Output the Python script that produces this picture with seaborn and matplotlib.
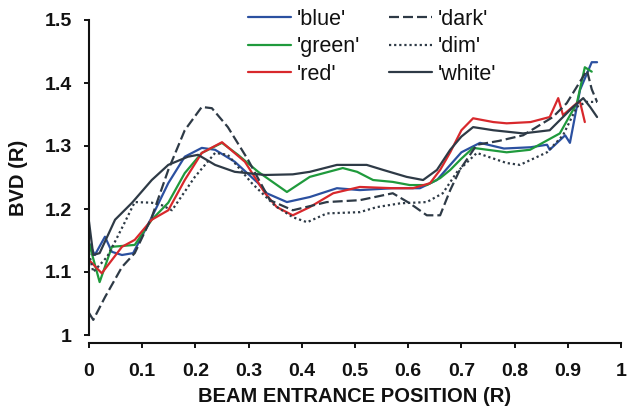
import matplotlib
matplotlib.use("Agg")
import matplotlib.pyplot as plt
import seaborn as sns
import pandas as pd

# ---- data ----
blue_x = [0, 0.011, 0.03, 0.043, 0.062, 0.083, 0.118, 0.149, 0.18, 0.212, 0.237, 0.274, 0.318, 0.334,
          0.372, 0.415, 0.466, 0.509, 0.571, 0.622, 0.654, 0.679, 0.70, 0.735, 0.78, 0.83, 0.861, 0.866,
          0.895, 0.904, 0.923, 0.945, 0.955]
blue_y = [1.146, 1.127, 1.156, 1.132, 1.127, 1.13, 1.187, 1.241, 1.283, 1.297, 1.294, 1.275, 1.241, 1.225,
          1.211, 1.219, 1.233, 1.23, 1.233, 1.233, 1.246, 1.27, 1.29, 1.305, 1.296, 1.298, 1.302, 1.294,
          1.317, 1.305, 1.389, 1.433, 1.433]

green_x = [0, 0.02, 0.043, 0.086, 0.118, 0.149, 0.18, 0.212, 0.25, 0.28, 0.318, 0.372, 0.415, 0.477,
           0.504, 0.534, 0.571, 0.603, 0.635, 0.66, 0.679, 0.70, 0.722, 0.785, 0.829, 0.885, 0.917, 0.932, 0.945]
green_y = [1.146, 1.084, 1.14, 1.143, 1.183, 1.21, 1.257, 1.289, 1.305, 1.286, 1.259, 1.227, 1.251, 1.265,
           1.259, 1.246, 1.243, 1.238, 1.238, 1.249, 1.262, 1.28, 1.297, 1.29, 1.294, 1.32, 1.368, 1.425, 1.418]

red_x = [0, 0.024, 0.043, 0.062, 0.086, 0.118, 0.149, 0.18, 0.212, 0.25, 0.293, 0.331, 0.353, 0.383,
         0.415, 0.459, 0.509, 0.571, 0.609, 0.641, 0.66, 0.679, 0.70, 0.722, 0.76, 0.785, 0.83, 0.866,
         0.882, 0.891, 0.917, 0.923, 0.932]
red_y = [1.119, 1.098, 1.119, 1.14, 1.151, 1.183, 1.198, 1.246, 1.289, 1.306, 1.275, 1.225, 1.203, 1.19,
         1.203, 1.225, 1.235, 1.233, 1.233, 1.241, 1.262, 1.29, 1.325, 1.344, 1.338, 1.336, 1.338, 1.346,
         1.376, 1.349, 1.368, 1.37, 1.338]

dark_x = [0, 0.008, 0.03, 0.062, 0.086, 0.118, 0.149, 0.18, 0.212, 0.231, 0.261, 0.299, 0.34, 0.383,
          0.447, 0.509, 0.571, 0.603, 0.635, 0.66, 0.679, 0.697, 0.729, 0.77, 0.816, 0.872, 0.898, 0.936,
          0.945, 0.955]
dark_y = [1.035, 1.024, 1.06, 1.108, 1.13, 1.187, 1.262, 1.325, 1.362, 1.36, 1.33, 1.278, 1.214, 1.198,
          1.211, 1.214, 1.225, 1.209, 1.19, 1.19, 1.23, 1.262, 1.302, 1.308, 1.317, 1.346, 1.368, 1.42,
          1.39, 1.37]

dim_x = [0, 0.008, 0.034, 0.05, 0.065, 0.086, 0.118, 0.137, 0.156, 0.199, 0.237, 0.261, 0.306, 0.35,
         0.383, 0.41, 0.447, 0.509, 0.541, 0.585, 0.635, 0.665, 0.692, 0.729, 0.785, 0.81, 0.861, 0.891,
         0.917, 0.935, 0.955]
dim_y = [1.13, 1.10, 1.124, 1.15, 1.175, 1.211, 1.21, 1.206, 1.198, 1.251, 1.289, 1.286, 1.241, 1.205,
         1.187, 1.179, 1.193, 1.195, 1.203, 1.209, 1.211, 1.225, 1.259, 1.289, 1.273, 1.27, 1.29, 1.317,
         1.362, 1.37, 1.37]

white_x = [0, 0.008, 0.02, 0.049, 0.081, 0.118, 0.149, 0.186, 0.205, 0.237, 0.274, 0.331, 0.383, 0.415,
           0.466, 0.522, 0.553, 0.597, 0.628, 0.654, 0.679, 0.70, 0.722, 0.76, 0.816, 0.866, 0.91, 0.929,
           0.942, 0.955]
white_y = [1.18, 1.127, 1.13, 1.183, 1.21, 1.246, 1.27, 1.283, 1.286, 1.27, 1.259, 1.254, 1.255, 1.259,
           1.27, 1.27, 1.262, 1.251, 1.246, 1.262, 1.294, 1.315, 1.33, 1.325, 1.32, 1.325, 1.362, 1.376,
           1.362, 1.346]

series_names = ["'blue'", "'green'", "'red'", "'dark'", "'dim'", "'white'"]
series_x = [blue_x, green_x, red_x, dark_x, dim_x, white_x]
series_y = [blue_y, green_y, red_y, dark_y, dim_y, white_y]

x_ticks = [0, 0.1, 0.2, 0.3, 0.4, 0.5, 0.6, 0.7, 0.8, 0.9, 1]
x_tick_labels = ["0", "0.1", "0.2", "0.3", "0.4", "0.5", "0.6", "0.7", "0.8", "0.9", "1"]
y_ticks = [1.0, 1.1, 1.2, 1.3, 1.4, 1.5]
y_tick_labels = ["1", "1.1", "1.2", "1.3", "1.4", "1.5"]

# ---- styling ----
colors = ["#2b50a0", "#1f9a3c", "#d8282c", "#2e3a46", "#2e3a46", "#2e3a46"]
styles = ["-", "-", "-", (0, (4.5, 1.8)), (0, (1, 1.3)), "-"]

sns.set_style("ticks")
plt.rcParams["font.family"] = ["Liberation Sans", "DejaVu Sans"]

fig = plt.figure(figsize=(6.28, 4.15), dpi=100)
ax = fig.add_axes([89 / 628, 80 / 415, (621 - 89) / 628, (335 - 20) / 415])

frames = []
for name, xs, ys in zip(series_names, series_x, series_y):
    frames.append(pd.DataFrame({"x": xs, "y": ys, "series": name}))
df = pd.concat(frames, ignore_index=True)

for name, col, ls in zip(series_names, colors, styles):
    sub = df[df["series"] == name]
    sns.lineplot(data=sub, x="x", y="y", ax=ax, color=col, linestyle=ls,
                 linewidth=1.6, label=name, sort=False, estimator=None)

ax.set_xlim(0, 1)
ax.set_ylim(1.0, 1.5)
ax.set_xticks(x_ticks)
ax.set_xticklabels(x_tick_labels)
ax.set_yticks(y_ticks)
ax.set_yticklabels(y_tick_labels)

for s in ["top", "right"]:
    ax.spines[s].set_visible(False)
for s in ["left", "bottom"]:
    ax.spines[s].set_linewidth(1.5)
    ax.spines[s].set_color("#111111")
ax.spines["bottom"].set_position(("outward", 6))

ax.tick_params(axis="both", direction="out", length=3.5, width=1.4, colors="#111111",
               labelsize=14, labelcolor="#111111")
ax.tick_params(axis="x", pad=11)
ax.tick_params(axis="y", pad=9)
for lab in ax.get_xticklabels() + ax.get_yticklabels():
    lab.set_fontweight("bold")

ax.set_xlabel("BEAM ENTRANCE POSITION (R)", fontsize=14.5, fontweight="bold", color="#111111", labelpad=5)
ax.set_ylabel("BVD (R)", fontsize=14.5, fontweight="bold", color="#111111", labelpad=12)

leg = ax.legend(ncol=2, frameon=False, loc="upper left",
                bbox_to_anchor=(248 / 628, 1 - 9 / 415), bbox_transform=fig.transFigure,
                fontsize=15.5, handlelength=2.0, handletextpad=0.25, columnspacing=1.35,
                labelspacing=0.3, borderpad=0, borderaxespad=0)
for t in leg.get_texts():
    t.set_color("#111111")

fig.savefig("out.png", dpi=100)
